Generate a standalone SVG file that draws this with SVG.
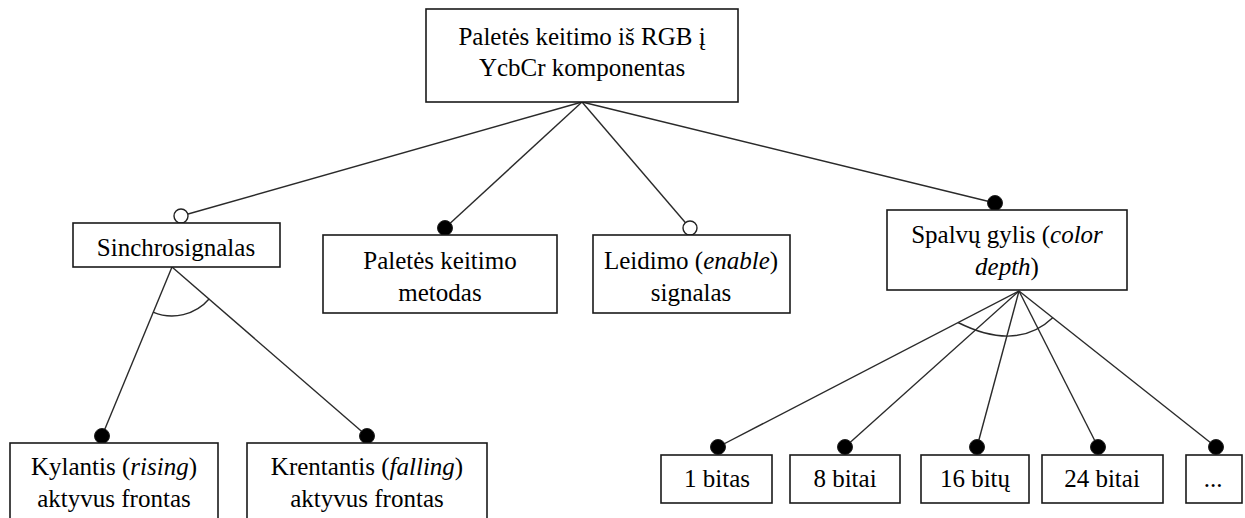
<svg xmlns="http://www.w3.org/2000/svg" width="1245" height="518" viewBox="0 0 1245 518">
  <style>
    .box { fill: #ffffff; stroke: #1a1a1a; stroke-width: 1.6; }
    text { font-family: 'Liberation Serif', 'Times New Roman', Times, 'DejaVu Serif', serif; font-size: 25px; fill: #000000; text-anchor: middle; }
    .i { font-style: italic; }
    .edge { stroke: #2a2a2a; stroke-width: 1.4; fill: none; }
    .dot { fill: #000000; stroke: #222222; stroke-width: 1; }
    .ring { fill: #ffffff; stroke: #222222; stroke-width: 1.4; }
  </style>
  <rect width="1245" height="518" fill="#ffffff"/>

  <!-- connectors -->
  <g id="connectors">
    <line class="edge" x1="582" y1="102" x2="181" y2="216"/>
    <line class="edge" x1="582" y1="102" x2="445" y2="228"/>
    <line class="edge" x1="582" y1="102" x2="690" y2="228"/>
    <line class="edge" x1="582" y1="102" x2="995" y2="203"/>

    <line class="edge" x1="172" y1="267" x2="102" y2="436"/>
    <line class="edge" x1="172" y1="267" x2="367" y2="436"/>
    <!-- alternative-group arc -->
    <path class="edge" d="M153.0,312.1 A49,49 0 0 0 209.3,298.8"/>

    <line class="edge" x1="1019" y1="291" x2="718" y2="447"/>
    <line class="edge" x1="1019" y1="291" x2="845" y2="447"/>
    <line class="edge" x1="1019" y1="291" x2="977" y2="447"/>
    <line class="edge" x1="1019" y1="291" x2="1098" y2="447"/>
    <line class="edge" x1="1019" y1="291" x2="1216" y2="447"/>
    <!-- alternative-group arc -->
    <path class="edge" d="M958,322.5 Q1017,352 1053,317.5"/>

    <circle class="ring" cx="181" cy="216" r="7"/>
    <circle class="dot" cx="445" cy="228" r="7.5"/>
    <circle class="ring" cx="690" cy="228" r="7"/>
    <circle class="dot" cx="995" cy="203" r="7.5"/>
    <circle class="dot" cx="102" cy="436" r="7.5"/>
    <circle class="dot" cx="367" cy="436" r="7.5"/>
    <circle class="dot" cx="718" cy="447" r="7.5"/>
    <circle class="dot" cx="845" cy="447" r="7.5"/>
    <circle class="dot" cx="977" cy="447" r="7.5"/>
    <circle class="dot" cx="1098" cy="447" r="7.5"/>
    <circle class="dot" cx="1216" cy="447" r="7.5"/>
  </g>

  <g id="root">
    <rect class="box" x="426" y="9" width="312" height="93"/>
    <text x="582" y="45">Paletės keitimo iš RGB į</text>
    <text x="582" y="76">YcbCr komponentas</text>
  </g>

  <g id="sinchro">
    <rect class="box" x="73" y="223" width="207" height="44"/>
    <text x="176" y="256">Sinchrosignalas</text>
  </g>

  <g id="metodas">
    <rect class="box" x="323" y="235" width="234" height="78"/>
    <text x="440" y="269">Paletės keitimo</text>
    <text x="440" y="301">metodas</text>
  </g>

  <g id="leidimas">
    <rect class="box" x="593" y="235" width="197" height="78"/>
    <text x="691" y="269">Leidimo (<tspan class="i">enable</tspan>)</text>
    <text x="691" y="301">signalas</text>
  </g>

  <g id="gylis">
    <rect class="box" x="887" y="210" width="240" height="80"/>
    <text x="1007" y="243">Spalvų gylis (<tspan class="i">color</tspan></text>
    <text x="1007" y="275"><tspan class="i">depth</tspan>)</text>
  </g>

  <g id="kylantis">
    <rect class="box" x="10" y="443" width="208" height="100"/>
    <text x="114" y="475">Kylantis (<tspan class="i">rising</tspan>)</text>
    <text x="114" y="507">aktyvus frontas</text>
  </g>

  <g id="krentantis">
    <rect class="box" x="247" y="443" width="240" height="100"/>
    <text x="367" y="475">Krentantis (<tspan class="i">falling</tspan>)</text>
    <text x="367" y="507">aktyvus frontas</text>
  </g>

  <g id="bit1">
    <rect class="box" x="661" y="455" width="111" height="48"/>
    <text x="717" y="487">1 bitas</text>
  </g>
  <g id="bit8">
    <rect class="box" x="790" y="455" width="110" height="48"/>
    <text x="845" y="487">8 bitai</text>
  </g>
  <g id="bit16">
    <rect class="box" x="921" y="455" width="108" height="48"/>
    <text x="975" y="487">16 bitų</text>
  </g>
  <g id="bit24">
    <rect class="box" x="1042" y="455" width="121" height="48"/>
    <text x="1102" y="487">24 bitai</text>
  </g>
  <g id="more">
    <rect class="box" x="1186" y="455" width="56" height="48"/>
    <text x="1213" y="487">...</text>
  </g>
</svg>
